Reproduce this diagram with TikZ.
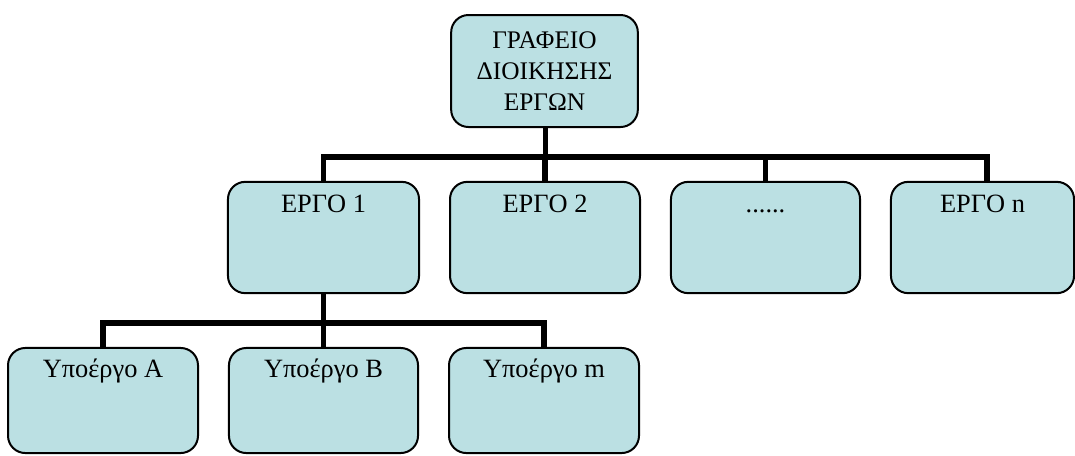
\documentclass[tikz,border=0pt]{standalone}
\usepackage{fontspec}
\setmainfont{Liberation Serif}
\usetikzlibrary{calc}
\definecolor{boxfill}{RGB}{187,224,227}
\tikzset{
  unitbox/.style={draw=black, line width=1.5pt, fill=boxfill, rounded corners=13pt,
    inner sep=0pt, minimum height=#1},
  unitbox/.default=83.5pt,
  boxtext/.style={anchor=base, inner sep=0pt, font=\fontsize{19.8}{23.25}\selectfont},
  conn/.style={line width=4pt, line join=miter, draw=black}
}
\begin{document}
\begin{tikzpicture}[x=0.75pt, y=-0.75pt]
  \useasboundingbox (0,0) rectangle (1075,455);

  % head office
  \node[unitbox=84pt, minimum width=140pt, align=center,
        font=\fontsize{19}{23.25}\selectfont] (top) at (544.5,71)
        {ΓΡΑΦΕΙΟ\\ΔΙΟΙΚΗΣΗΣ\\ΕΡΓΩΝ};

  % projects
  \node[unitbox, minimum width=143.3pt] (e1) at (323.5,237.5) {};
  \node[unitbox, minimum width=142.5pt] (e2) at (545,237.5) {};
  \node[unitbox, minimum width=141.8pt] (e3) at (765.5,237.5) {};
  \node[unitbox, minimum width=137.3pt] (en) at (982.5,237.5) {};
  \node[boxtext] (e1t) at ($(e1.north)+(0,32)$) {ΕΡΓΟ 1};
  \node[boxtext] (e2t) at ($(e2.north)+(0,32)$) {ΕΡΓΟ 2};
  \node[boxtext] (e3t) at ($(e3.north)+(0,32)$) {......};
  \node[boxtext] (ent) at ($(en.north)+(0,32)$) {ΕΡΓΟ n};

  % sub-projects of project 1
  \node[unitbox=78.8pt, minimum width=142.5pt] (s1) at (103,400.5) {};
  \node[unitbox=78.8pt, minimum width=141.8pt] (s2) at (323.5,400.5) {};
  \node[unitbox=78.8pt, minimum width=142.5pt] (s3) at (544,400.5) {};
  \node[boxtext] (s1t) at ($(s1.north)+(0,31)$) {Υποέργο Α};
  \node[boxtext] (s2t) at ($(s2.north)+(0,31)$) {Υποέργο Β};
  \node[boxtext] (s3t) at ($(s3.north)+(0,31)$) {Υποέργο m};

  % connectors
  \coordinate (bus) at (545.5,157);
  \coordinate (enin) at ($(en.north)+(4.5,0)$);
  \coordinate (subbus) at (323.5,323);
  \draw[conn] (top.south -| bus) -- (bus);
  \draw[conn] (e1.north) |- (bus) -| (enin);
  \draw[conn] (e2.north) -- (e2.north |- bus);
  \draw[conn] (e3.north) -- (e3.north |- bus);
  \draw[conn] (e1.south) -- (subbus);
  \draw[conn] (s1.north) |- (subbus) -| (s3.north);
  \draw[conn] (s2.north) -- (subbus);
\end{tikzpicture}
\end{document}
